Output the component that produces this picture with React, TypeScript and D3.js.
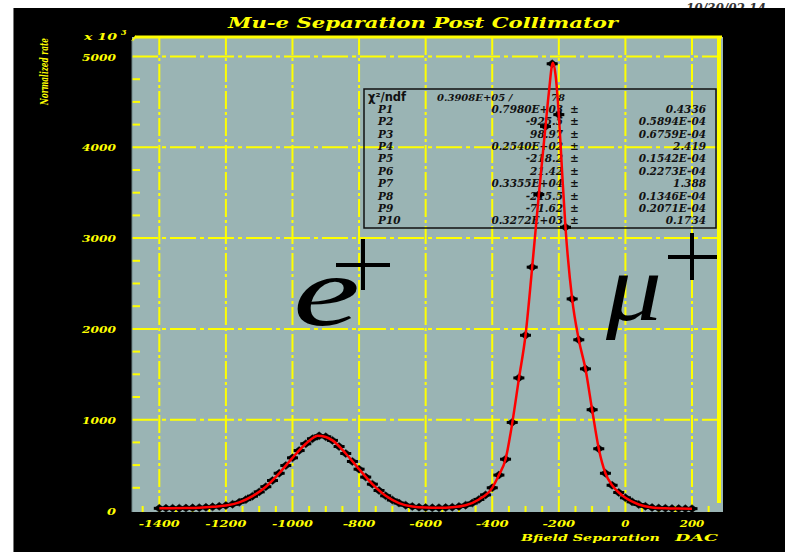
import React from "react";
import * as d3 from "d3";

// histogram bins (Bfield separation DAC) and normalized rate
const binX = [
  -1400, -1380, -1360, -1340, -1320, -1300, -1280, -1260, -1240, -1220,
  -1200, -1180, -1160, -1140, -1120, -1100, -1080, -1060, -1040, -1020,
  -1000, -980, -960, -940, -920, -900, -880, -860, -840, -820,
  -800, -780, -760, -740, -720, -700, -680, -660, -640, -620,
  -600, -580, -560, -540, -520, -500, -480, -460, -440, -420,
  -400, -380, -360, -340, -320, -300, -280, -260, -240, -220,
  -200, -180, -160, -140, -120, -100, -80, -60, -40, -20,
  0, 20, 40, 60, 80, 100, 120, 140, 160, 180, 200,
];
const counts = [
  24, 25, 25, 26, 27, 29, 31, 35, 40, 46,
  55, 68, 90, 120, 158, 205, 262, 330, 410, 495,
  580, 660, 735, 790, 822, 812, 772, 705, 628, 540,
  455, 368, 290, 220, 162, 116, 82, 58, 44, 36,
  32, 30, 30, 32, 36, 44, 58, 82, 122, 172,
  250, 390, 565, 970, 1460, 1930, 2680, 3480, 4230, 4920,
  4360, 3120, 2330, 1880, 1560, 1110, 680, 410, 278, 198,
  140, 96, 66, 46, 33, 27, 24, 22, 21, 20, 20,
];

// fitted curve
const fitX = [
  -1400, -1360, -1320, -1280, -1240, -1200, -1160, -1120, -1080, -1040,
  -1000, -960, -940, -925, -900, -880, -840, -800, -760, -720,
  -680, -640, -600, -560, -520, -480, -440, -400, -380, -360,
  -340, -320, -300, -280, -260, -240, -230, -218, -210, -200,
  -190, -180, -160, -140, -120, -100, -80, -60, -40, -20,
  0, 40, 80, 120, 160, 200,
];
const fitY = [
  24, 25, 27, 31, 40, 55, 90, 158, 262, 410,
  580, 735, 795, 823, 810, 772, 628, 455, 290, 162,
  82, 44, 32, 30, 36, 58, 122, 250, 390, 565,
  960, 1450, 1930, 2680, 3480, 4230, 4600, 4930, 4800, 4360,
  3720, 3120, 2330, 1880, 1560, 1110, 680, 410, 278, 198,
  140, 66, 33, 24, 21, 20,
];

const yTicks = [0, 1000, 2000, 3000, 4000, 5000];
const xTicks = [-1400, -1200, -1000, -800, -600, -400, -200, 0, 200];

const paramNames = ["P1", "P2", "P3", "P4", "P5", "P6", "P7", "P8", "P9", "P10"];
const paramValues = [
  "0.7980E+03", "-925.5", "98.97", "0.2540E+02", "-218.2",
  "21.42", "0.3355E+04", "-215.5", "-71.62", "0.3272E+03",
];
const paramErrors = [
  "0.4336", "0.5894E-04", "0.6759E-04", "2.419", "0.1542E-04",
  "0.2273E-04", "1.388", "0.1346E-04", "0.2071E-04", "0.1734",
];

const W = 785;
const H = 552;
const plotL = 132;
const plotR = 723;
const plotT = 37;
const plotB = 512;

const YELLOW = "#ffff00";
const serifBI = {
  fontFamily: "'DejaVu Serif', serif",
  fontWeight: "bold" as const,
  fontStyle: "italic" as const,
};

export default function App() {
  const x = d3.scaleLinear().domain([-1400, 200]).range([159.3, 692]);
  const y = d3.scaleLinear().domain([0, 5000]).range([510.5, 56.5]);

  const fitLine = d3
    .line<number>()
    .x((d, i) => x(fitX[i]))
    .y((d) => y(d))
    .curve(d3.curveMonotoneX);

  const minorY = d3.range(250, 5001, 250).filter((v) => v % 1000 !== 0);
  const minorX = d3.range(-1450, 251, 50).filter((v) => v % 200 !== 0);

  const rowY = (i: number) => 112.8 + i * 12.4;

  return (
    <svg
      width={W}
      height={H}
      style={{ position: "absolute", left: 0, top: 0 }}
    >
      <rect width={W} height={H} fill="#fff" />
      <text x={686} y={13} fontSize={12} fill="#333" {...serifBI}>
        10/30/02  14
      </text>
      <rect x={13} y={8} width={W - 13} height={H - 8} fill="#000" />
      <line x1={13.5} x2={13.5} y1={8} y2={H} stroke="#777" strokeWidth={1} />

      {/* title */}
      <text x={228} y={28} fontSize={14.5} fill={YELLOW} textLength={390} lengthAdjust="spacingAndGlyphs" {...serifBI}>
        Mu-e Separation Post Collimator
      </text>

      {/* y axis title + multiplier */}
      <text
        transform="translate(48,105) rotate(-90)"
        fontSize={11.5}
        fill={YELLOW}
        textLength={67}
        lengthAdjust="spacingAndGlyphs"
        {...serifBI}
      >
        Normalized rate
      </text>
      <text x={84} y={40} fontSize={10} fill={YELLOW} textLength={33} lengthAdjust="spacingAndGlyphs" {...serifBI}>
        x 10
      </text>
      <text x={121} y={35} fontSize={8} fill={YELLOW} {...serifBI}>
        3
      </text>

      {/* plot background */}
      <rect x={plotL} y={plotT} width={plotR - plotL} height={plotB - plotT} fill="#9ab4b4" />

      {/* grid */}
      <g stroke={YELLOW} strokeWidth={2} fill="none">
        {yTicks.filter((t) => t > 0).map((t) => (
          <line key={"gy" + t} x1={plotL} x2={719} y1={y(t)} y2={y(t)} strokeDasharray="26 4 4 4" />
        ))}
        {xTicks.map((t) => (
          <line key={"gx" + t} x1={x(t)} x2={x(t)} y1={plotT} y2={plotB} strokeDasharray="18 3 3 3" />
        ))}
        {minorY.map((t) => (
          <line key={"my" + t} x1={plotL} x2={plotL + 8} y1={y(t)} y2={y(t)} />
        ))}
        {minorX.map((t) => (
          <line key={"mx" + t} x1={x(t)} x2={x(t)} y1={plotB - 6} y2={plotB} />
        ))}
      </g>

      {/* fit statistics box */}
      <rect x={364} y={89} width={352} height={139} fill="none" stroke="#111" strokeWidth={1.5} />
      <text x={368} y={100.5} fontSize={11.5} fontWeight="bold" fontFamily="'DejaVu Sans', sans-serif" fill="#111">
        χ²/ndf
      </text>
      <text x={437} y={100.5} fontSize={10} fill="#111" {...serifBI}>
        0.3908E+05 /
      </text>
      <text x={565} y={100.5} fontSize={10} fill="#111" textAnchor="end" {...serifBI}>
        78
      </text>
      {paramNames.map((p, i) => (
        <g key={p} fill="#111" fontSize={10.5} {...serifBI}>
          <text x={378} y={rowY(i)}>{p}</text>
          <text x={563} y={rowY(i)} textAnchor="end">{paramValues[i]}</text>
          <text x={570} y={rowY(i)} fontStyle="normal" fontSize={10.5}>±</text>
          <text x={706} y={rowY(i)} textAnchor="end">{paramErrors[i]}</text>
        </g>
      ))}

      {/* data points */}
      <g fill="#000" stroke="#000">
        {counts.map((c, i) => {
          const cx = x(binX[i]);
          const cy = y(c);
          return (
            <g key={"pt" + i}>
              <line x1={cx - 5.5} x2={cx + 5.5} y1={cy} y2={cy} strokeWidth={3} />
              <path d={`M${cx - 5},${cy}L${cx},${cy - 4}L${cx + 5},${cy}L${cx},${cy + 4}Z`} strokeWidth={0.5} />
            </g>
          );
        })}
      </g>

      {/* fit */}
      <path d={fitLine(fitY) || ""} fill="none" stroke="#ff0000" strokeWidth={2.5} />

      {/* particle labels */}
      <text x={293} y={325} fontSize={100} fontStyle="italic" fontFamily="'Liberation Serif', serif" textLength={67} lengthAdjust="spacingAndGlyphs" fill="#000">
        e
      </text>
      <g stroke="#000" strokeWidth={4}>
        <line x1={336} x2={390} y1={265} y2={265} />
        <line x1={363} x2={363} y1={239} y2={290} />
        <line x1={668} x2={717} y1={257} y2={257} />
        <line x1={692} x2={692} y1={233} y2={280} />
      </g>
      <text x={606} y={320} fontSize={96} fontStyle="italic" fontFamily="'Liberation Serif', serif" textLength={56} lengthAdjust="spacingAndGlyphs" fill="#000">
        μ
      </text>

      {/* frame */}
      <line x1={135} x2={722} y1={37} y2={37} stroke={YELLOW} strokeWidth={3} />
      <line x1={132} x2={136} y1={41} y2={36} stroke={YELLOW} strokeWidth={2} />
      <line x1={719} x2={719} y1={37} y2={503} stroke={YELLOW} strokeWidth={4} />
      <line x1={plotL} x2={plotL} y1={40} y2={plotB} stroke="#6f8585" strokeWidth={1} />

      {/* y tick labels */}
      {yTicks.map((t) => (
        <text
          key={"yl" + t}
          x={116}
          y={y(t) + 4}
          fontSize={10}
          fill={YELLOW}
          textAnchor="end"
          textLength={t === 0 ? 9 : 34}
          lengthAdjust="spacingAndGlyphs"
          {...serifBI}
        >
          {t}
        </text>
      ))}

      {/* x tick labels */}
      {xTicks.map((t) => {
        const s = String(t);
        return (
          <text
            key={"xl" + t}
            x={x(t)}
            y={527}
            fontSize={10}
            fill={YELLOW}
            textAnchor="middle"
            textLength={s.length * 8.2}
            lengthAdjust="spacingAndGlyphs"
            {...serifBI}
          >
            {s}
          </text>
        );
      })}
      <text x={521} y={541} fontSize={10} fill={YELLOW} textLength={139} lengthAdjust="spacingAndGlyphs" {...serifBI}>
        Bfield Separation
      </text>
      <text x={675} y={541} fontSize={10} fill={YELLOW} textLength={43} lengthAdjust="spacingAndGlyphs" {...serifBI}>
        DAC
      </text>
    </svg>
  );
}
